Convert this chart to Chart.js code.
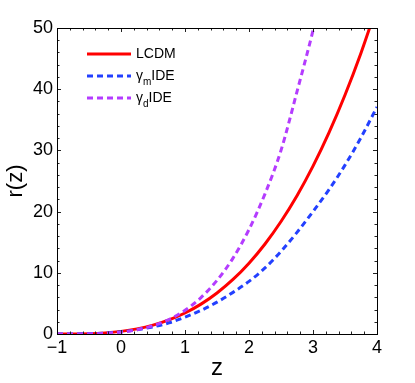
<!DOCTYPE html>
<html>
<head>
<meta charset="utf-8">
<script src="https://cdn.jsdelivr.net/npm/chart.js@4"></script>
<style>
html,body{margin:0;padding:0;background:#fff;}
#wrap{width:415px;height:383px;position:relative;}
</style>
</head>
<body>
<div id="wrap"><canvas id="c" width="415" height="383"></canvas></div>
<script>
// ---- data ----
const zVals  = [-1, -0.75, -0.5, -0.25, 0, 0.25, 0.5, 0.75, 1, 1.25, 1.5, 1.75, 2, 2.25, 2.5, 2.75, 3, 3.25, 3.5, 3.75, 4];
const lcdm   = [0, 0.007, 0.054, 0.18, 0.43, 0.84, 1.45, 2.3, 3.43, 4.88, 6.7, 8.91, 11.57, 14.71, 18.38, 22.6, 27.43, 32.9, 39.05, 45.93, 53.57];
const gammaM = [0, 0.007, 0.05, 0.16, 0.365, 0.69, 1.17, 1.82, 2.75, 3.85, 5.2, 6.8, 8.6, 10.8, 13.5, 16.6, 20.0, 23.6, 27.6, 32.1, 37.1];
const gammaD = [0, 0.002, 0.024, 0.107, 0.306, 0.69, 1.35, 2.37, 3.87, 5.95, 8.76, 12.4, 17.07, 22.9, 30.0, 39.6, 49.6, 61.0, null, null, null];
const xTicks = [-1, 0, 1, 2, 3, 4];
const yTicks = [0, 10, 20, 30, 40, 50];
const seriesNames = ['LCDM', 'γ|m|IDE', 'γ|d|IDE'];
// ------------------------------------------------

const FONT = '"Liberation Sans", Arial, Helvetica, sans-serif';
const RED = '#ff0000', BLUE = '#2340ff', PURPLE = '#b43cff';

function pts(arr){ return zVals.map((z,i)=>({x:z, y:arr[i]})); }

const frame = {
  id:'frame',
  afterDatasetsDraw(chart){
    const ctx = chart.ctx, a = chart.chartArea;
    const xs = chart.scales.x, ys = chart.scales.y;
    ctx.save();
    ctx.strokeStyle = '#222';
    ctx.lineWidth = 1;
    ctx.beginPath();
    for (let k = 0; k <= 25; k++){
      const v = -1 + k*0.2;
      const major = (k % 5 === 0);
      const L = major ? 4 : 2.5;
      const px = Math.round(xs.getPixelForValue(v)) + 0.5;
      ctx.moveTo(px, a.bottom); ctx.lineTo(px, a.bottom - L);
      ctx.moveTo(px, a.top); ctx.lineTo(px, a.top + L);
    }
    for (let k = 0; k <= 25; k++){
      const v = k*2;
      const major = (k % 5 === 0);
      const L = major ? 4 : 2.5;
      const py = Math.round(ys.getPixelForValue(v)) + 0.5;
      ctx.moveTo(a.left, py); ctx.lineTo(a.left + L, py);
      ctx.moveTo(a.right, py); ctx.lineTo(a.right - L, py);
    }
    ctx.stroke();
    ctx.strokeStyle = '#000';
    ctx.strokeRect(Math.round(a.left)+0.5, Math.round(a.top)+0.5, Math.round(a.right-a.left), Math.round(a.bottom-a.top));
    ctx.restore();

    // legend
    const rows = [
      {c:RED, dash:[]},
      {c:BLUE, dash:[6,4]},
      {c:PURPLE, dash:[6,4]}
    ];
    ctx.save();
    rows.forEach((r,i)=>{
      const y = 54 + i*22;
      ctx.strokeStyle = r.c; ctx.lineWidth = 3; ctx.setLineDash(r.dash);
      ctx.beginPath(); ctx.moveTo(87, y); ctx.lineTo(131, y); ctx.stroke();
      ctx.setLineDash([]);
      ctx.fillStyle = '#000';
      ctx.textBaseline = 'middle';
      const parts = seriesNames[i].split('|');
      let x = 136;
      ctx.font = '14px ' + FONT;
      ctx.fillText(parts[0], x, y); x += ctx.measureText(parts[0]).width;
      if (parts.length > 1){
        ctx.font = '10px ' + FONT;
        ctx.fillText(parts[1], x, y + 6); x += ctx.measureText(parts[1]).width;
        ctx.font = '14px ' + FONT;
        ctx.fillText(parts[2], x, y);
      }
    });
    ctx.restore();
  }
};

new Chart(document.getElementById('c'), {
  type:'line',
  data:{
    datasets:[
      {label:'LCDM', data:pts(lcdm), borderColor:RED, borderWidth:3, pointRadius:0, cubicInterpolationMode:'monotone', order:2, fill:false},
      {label:'γmIDE', data:pts(gammaM), borderColor:BLUE, borderWidth:3, borderDash:[6,4], pointRadius:0, cubicInterpolationMode:'monotone', order:1, fill:false},
      {label:'γdIDE', data:pts(gammaD), borderColor:PURPLE, borderWidth:3, borderDash:[6,4], pointRadius:0, cubicInterpolationMode:'monotone', order:0, fill:false, clip:0}
    ]
  },
  options:{
    responsive:false,
    animation:false,
    events:[],
    layout:{padding:{left:0, top:28, right:38, bottom:0}},
    plugins:{legend:{display:false}, tooltip:{enabled:false}},
    scales:{
      x:{
        type:'linear', min:-1, max:4,
        afterBuildTicks(s){ s.ticks = xTicks.map(v=>({value:v})); },
        afterFit(s){ s.height = 49; },
        grid:{display:false, drawTicks:false},
        border:{display:false},
        ticks:{font:{size:18, family:FONT}, color:'#000', padding:3, maxRotation:0,
          callback:(v)=> String(v).replace('-', '\u2212')},
        title:{display:true, text:'z', font:{size:24, family:FONT}, color:'#000', padding:{top:0, bottom:0}}
      },
      y:{
        type:'linear', min:0, max:50,
        afterBuildTicks(s){ s.ticks = yTicks.map(v=>({value:v})); },
        afterFit(s){ s.width = 57; },
        grid:{display:false, drawTicks:false},
        border:{display:false},
        ticks:{font:{size:18, family:FONT}, color:'#000', padding:4},
        title:{display:true, text:'r(z)', font:{size:22, family:FONT}, color:'#000', padding:{top:3, bottom:0}}
      }
    }
  },
  plugins:[frame]
});
</script>
</body>
</html>
